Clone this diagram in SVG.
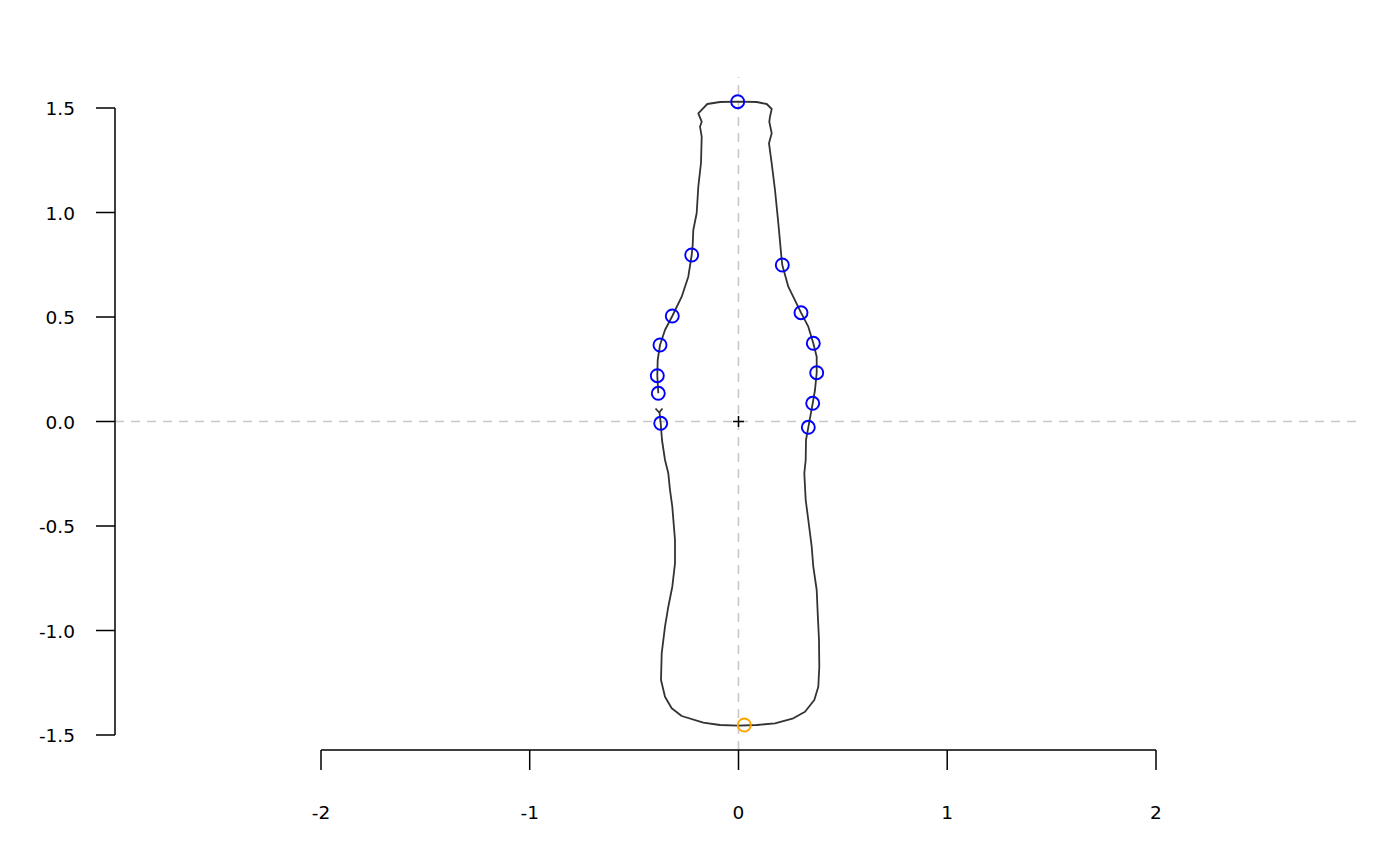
<svg xmlns="http://www.w3.org/2000/svg" width="1400" height="866" viewBox="0 0 1400 866">
<style>
.axis{stroke:#000;stroke-width:1.5;fill:none}
.grid{stroke:#c8c8c8;stroke-width:1.6;stroke-dasharray:9 7;fill:none}
.lbl{font-family:"DejaVu Sans",sans-serif;font-size:18.5px;fill:#000}
.ylbl{text-anchor:end}
.xlbl{text-anchor:middle}
.lm{fill:none;stroke:#0000ff;stroke-width:1.9}
.out{fill:none;stroke:#333333;stroke-width:1.8;stroke-linejoin:round}
</style>
<rect width="1400" height="866" fill="#ffffff"/>
<g id="grid">
<line class="grid" x1="115" y1="421.5" x2="1356" y2="421.5"/>
<line class="grid" x1="738.5" y1="750" x2="738.5" y2="77"/>
</g>
<g id="y-axis">
<path class="axis" d="M115,108 V735 M96,108 H115 M96,212.5 H115 M96,317 H115 M96,421.5 H115 M96,526 H115 M96,630.5 H115 M96,735 H115"/>
<text class="lbl ylbl" x="75" y="115">1.5</text>
<text class="lbl ylbl" x="75" y="219.5">1.0</text>
<text class="lbl ylbl" x="75" y="324">0.5</text>
<text class="lbl ylbl" x="75" y="428.5">0.0</text>
<text class="lbl ylbl" x="75" y="533">-0.5</text>
<text class="lbl ylbl" x="75" y="637.5">-1.0</text>
<text class="lbl ylbl" x="75" y="742">-1.5</text>
</g>
<g id="x-axis">
<path class="axis" d="M321,750 H1156 M321,750 V770 M529.7,750 V770 M738.5,750 V770 M947.2,750 V770 M1156,750 V770"/>
<text class="lbl xlbl" x="321" y="819">-2</text>
<text class="lbl xlbl" x="529.7" y="819">-1</text>
<text class="lbl xlbl" x="738.5" y="819">0</text>
<text class="lbl xlbl" x="947.2" y="819">1</text>
<text class="lbl xlbl" x="1156" y="819">2</text>
</g>
<g id="outline">
<polyline class="out" points="659.5,412 660.7,423.3 662,440 665,460 668.3,473.3 670,490 672.3,506.7 675,540 675,563.3 672.3,586.7 668.3,606.7 665,626.7 661.7,653.3 661,680 665,696.7 671.7,708.3 681.7,716 703.3,722.7 720,725 738.3,725.7 756.7,725 775,723.3 793.3,718.3 805,711.7 814.3,700 818.3,686.7 819.3,666.7 819,640 817.7,613.3 816.7,590 813.3,566.7 811.7,546.7 808.3,520 805.7,500 804.3,473.3 805.7,460 806,440 808.3,427.3 812.7,403.3 815,390 816.7,372.7 816.7,356.7 813.3,343.3 808.3,326.7 801,312.7 788.3,286.7 782.3,265 781.7,260 778.3,223 775,190 771.7,163.3 769,143.3 771.7,133.3 769.3,121.7 770,116.7 771.7,109 766.7,104 756.7,102 738.3,101.7 720,102 707.3,104 698.3,113.3 701.7,121.7 700,126.7 701.7,136.7 701,163 698.3,186.7 696.7,213 693.3,230 692.7,245 691.7,255 688.3,276.7 681.7,296.7 672.3,316 665,330 660,345 657.7,360 657.3,375.7 658.3,393.3"/>
</g>
<g id="first-point">
<path class="out" d="M655.5,408.5 L659.2,412.5 L662.5,408.5"/>
</g>
<g id="centroid">
<path d="M733,421.5 H744 M738.5,416 V427" stroke="#000" stroke-width="1.5"/>
</g>
<g id="landmarks">
<circle class="lm" cx="737.7" cy="101.7" r="6.5"/>
<circle class="lm" cx="691.7" cy="255" r="6.5"/>
<circle class="lm" cx="782.3" cy="265" r="6.5"/>
<circle class="lm" cx="672.3" cy="316" r="6.5"/>
<circle class="lm" cx="801" cy="312.7" r="6.5"/>
<circle class="lm" cx="660" cy="345" r="6.5"/>
<circle class="lm" cx="813.3" cy="343.3" r="6.5"/>
<circle class="lm" cx="657.3" cy="375.7" r="6.5"/>
<circle class="lm" cx="816.7" cy="372.7" r="6.5"/>
<circle class="lm" cx="658.3" cy="393.3" r="6.5"/>
<circle class="lm" cx="812.7" cy="403.3" r="6.5"/>
<circle class="lm" cx="660.7" cy="423.3" r="6.5"/>
<circle class="lm" cx="808.3" cy="427.3" r="6.5"/>
<circle cx="744.3" cy="725" r="6.5" fill="none" stroke="#ffa500" stroke-width="1.9"/>
</g>
</svg>
